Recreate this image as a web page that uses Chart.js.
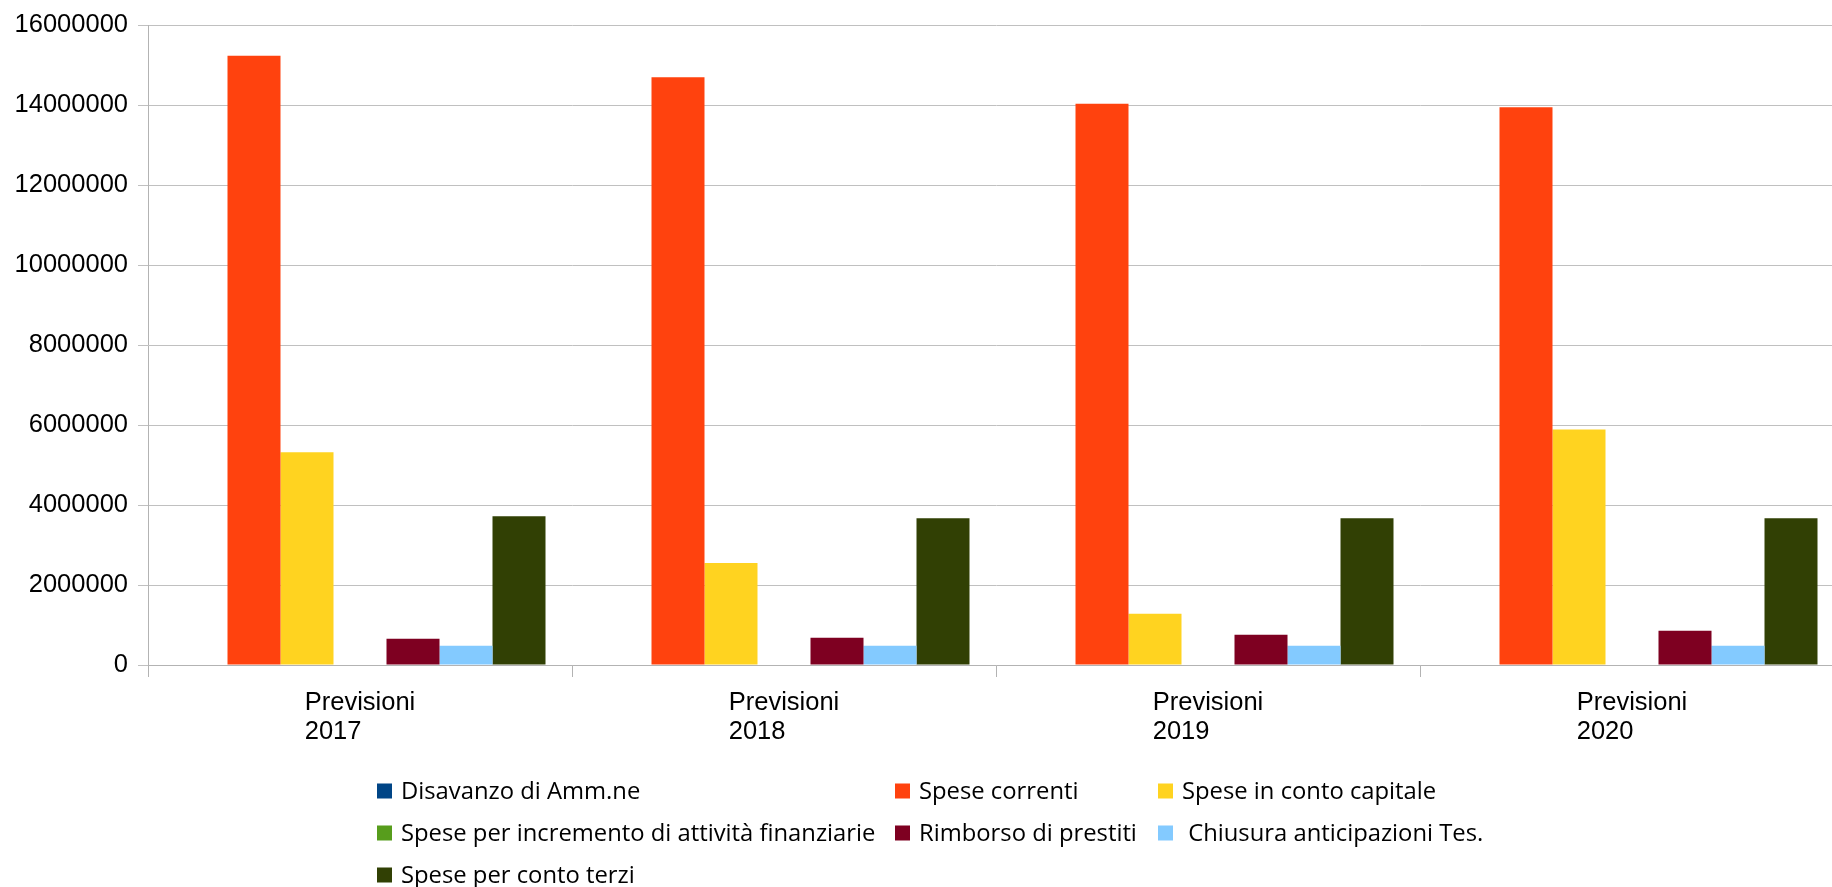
<!DOCTYPE html>
<html>
<head>
<meta charset="utf-8">
<script src="https://cdn.jsdelivr.net/npm/chart.js@4.4.0/dist/chart.umd.min.js"></script>
<style>
html,body{margin:0;padding:0;overflow:hidden;background:#ffffff;width:1832px;height:887px;}
#wrap{position:absolute;left:0;top:0;width:1844px;height:887px;}
canvas{display:block;}
</style>
</head>
<body>
<div id="wrap"><canvas id="c" width="1844" height="887"></canvas></div>
<script>
// ---- data ----
const categories = [["Previsioni", "2017"], ["Previsioni", "2018"], ["Previsioni", "2019"], ["Previsioni", "2020"]];
const seriesNames = [
  "Disavanzo di Amm.ne",
  "Spese correnti",
  "Spese in conto capitale",
  "Spese per incremento di attività finanziarie",
  "Rimborso di prestiti",
  " Chiusura anticipazioni Tes.",
  "Spese per conto terzi"
];
const disavanzo = [0, 0, 0, 0];
const speseCorrenti = [15240000, 14700000, 14040000, 13950000];
const speseContoCapitale = [5320000, 2550000, 1280000, 5890000];
const speseIncremento = [0, 0, 0, 0];
const rimborsoPrestiti = [656000, 680000, 755000, 855000];
const chiusuraAnticipazioni = [480000, 480000, 480000, 480000];
const speseContoTerzi = [3720000, 3670000, 3670000, 3670000];
const yTicks = [0, 2000000, 4000000, 6000000, 8000000, 10000000, 12000000, 14000000, 16000000];
const seriesColors = ["#004586", "#ff420e", "#ffd320", "#579d1c", "#7e0021", "#83caff", "#314004"];

const seriesValues = [disavanzo, speseCorrenti, speseContoCapitale, speseIncremento, rimborsoPrestiti, chiusuraAnticipazioni, speseContoTerzi];

// ---- custom drawing: category labels and legend ----
const customText = {
  id: 'customText',
  afterDraw(chart) {
    const ctx = chart.ctx;
    const xs = chart.scales.x;
    const bottom = chart.chartArea.bottom;
    ctx.save();
    // category labels: lines left-aligned, block centred on category
    ctx.font = '25.5px "Liberation Sans"';
    ctx.fillStyle = '#000000';
    ctx.textBaseline = 'alphabetic';
    ctx.textAlign = 'left';
    categories.forEach((lines, i) => {
      const cx = xs.getPixelForValue(i);
      const w = Math.max(...lines.map(l => ctx.measureText(l).width));
      lines.forEach((l, k) => ctx.fillText(l, cx - w / 2, bottom + 45 + k * 29));
    });
    // legend in 3 columns
    const colX = [377, 895, 1158];
    const rowY = [791, 833, 875];
    const sq = 15;
    ctx.font = '23.8px "Open Sans"';
    ctx.textBaseline = 'middle';
    chart.data.datasets.forEach((ds, i) => {
      const x = colX[i % 3];
      const y = rowY[Math.floor(i / 3)];
      ctx.fillStyle = ds.backgroundColor;
      ctx.fillRect(x, y - sq / 2, sq, sq);
      ctx.fillStyle = '#000000';
      ctx.fillText(ds.label, x + 24, y + 1);
    });
    ctx.restore();
  }
};

new Chart(document.getElementById('c'), {
  type: 'bar',
  data: {
    labels: categories,
    datasets: seriesNames.map((name, i) => ({
      label: name,
      data: seriesValues[i],
      backgroundColor: seriesColors[i],
      borderWidth: 0
    }))
  },
  options: {
    responsive: false,
    animation: false,
    devicePixelRatio: 1,
    layout: { padding: { top: 23, left: 0, right: 0, bottom: 0 } },
    plugins: { legend: { display: false }, tooltip: { enabled: false } },
    datasets: { bar: { categoryPercentage: 0.875, barPercentage: 1.0 } },
    scales: {
      x: {
        offset: true,
        grid: { offset: true, drawOnChartArea: false, drawTicks: true, tickLength: 12, color: '#b3b3b3', lineWidth: 1 },
        border: { color: '#b3b3b3', width: 1 },
        ticks: { display: false },
        afterFit(s) { s.height = 222; }
      },
      y: {
        min: 0,
        max: 16000000,
        afterBuildTicks(s) { s.ticks = yTicks.map(v => ({ value: v })); },
        ticks: {
          padding: 10,
          color: '#000000',
          font: { family: 'Liberation Sans', size: 25.5 },
          callback: v => String(v)
        },
        grid: { color: '#c0c0c0', lineWidth: 1, tickLength: 10, drawTicks: true },
        border: { color: '#b3b3b3', width: 1 },
        afterFit(s) { s.width = 148; }
      }
    }
  },
  plugins: [customText]
});
</script>
</body>
</html>
